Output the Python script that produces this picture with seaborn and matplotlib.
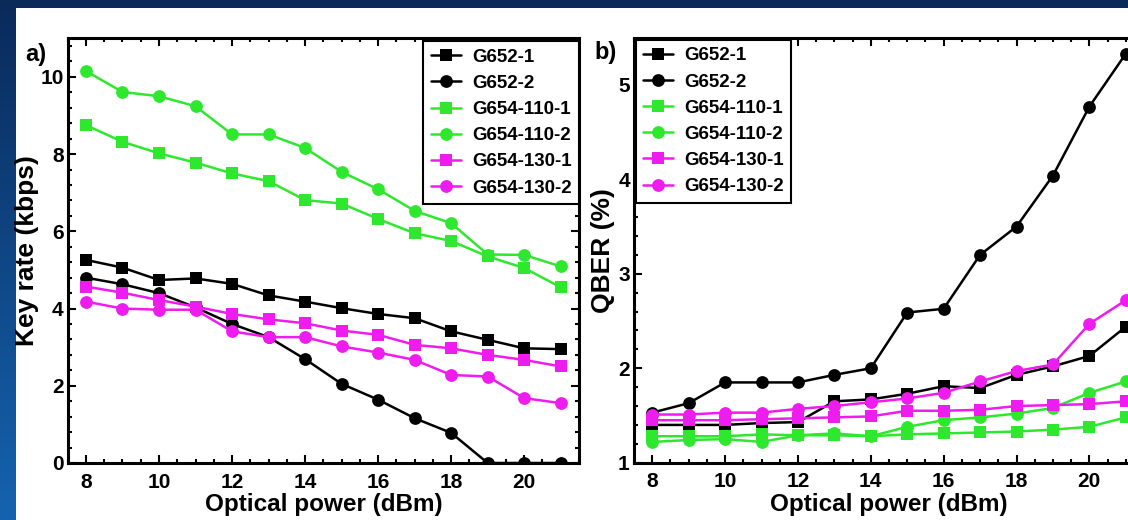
import numpy as np
import pandas as pd
import matplotlib
matplotlib.use("Agg")
import matplotlib.pyplot as plt
from matplotlib.ticker import MultipleLocator
from matplotlib.patches import Rectangle
from matplotlib.colors import LinearSegmentedColormap
import seaborn as sns

# ---------------- data ----------------
power = [8, 9, 10, 11, 12, 13, 14, 15, 16, 17, 18, 19, 20, 21]
series_names = ["G652-1", "G652-2", "G654-110-1", "G654-110-2", "G654-130-1", "G654-130-2"]

# panel a) key rate (kbps)
key_g652_1 = [5.26, 5.06, 4.74, 4.78, 4.64, 4.34, 4.18, 4.01, 3.86, 3.75, 3.41, 3.19, 2.97, 2.95]
key_g652_2 = [4.80, 4.63, 4.40, 4.03, 3.60, 3.26, 2.69, 2.05, 1.64, 1.16, 0.78, 0.0, 0.0, 0.0]
key_g654_110_1 = [8.75, 8.32, 8.02, 7.78, 7.50, 7.30, 6.81, 6.72, 6.32, 5.95, 5.75, 5.35, 5.05, 4.55]
key_g654_110_2 = [10.15, 9.61, 9.50, 9.24, 8.51, 8.51, 8.16, 7.54, 7.09, 6.53, 6.21, 5.40, 5.39, 5.09]
key_g654_130_1 = [4.57, 4.41, 4.22, 4.05, 3.86, 3.72, 3.62, 3.43, 3.32, 3.06, 2.97, 2.80, 2.67, 2.50]
key_g654_130_2 = [4.18, 4.00, 3.97, 3.97, 3.41, 3.26, 3.26, 3.02, 2.86, 2.67, 2.28, 2.24, 1.68, 1.55]

# panel b) QBER (%)
qber_g652_1 = [1.40, 1.40, 1.40, 1.42, 1.43, 1.65, 1.67, 1.73, 1.81, 1.79, 1.93, 2.02, 2.13, 2.44]
qber_g652_2 = [1.53, 1.63, 1.85, 1.85, 1.85, 1.93, 2.00, 2.59, 2.63, 3.20, 3.50, 4.04, 4.77, 5.33]
qber_g654_110_1 = [1.28, 1.28, 1.28, 1.30, 1.29, 1.29, 1.28, 1.30, 1.31, 1.32, 1.33, 1.35, 1.38, 1.48]
qber_g654_110_2 = [1.22, 1.24, 1.25, 1.22, 1.29, 1.31, 1.28, 1.38, 1.45, 1.48, 1.52, 1.58, 1.74, 1.86]
qber_g654_130_1 = [1.45, 1.45, 1.45, 1.46, 1.47, 1.48, 1.49, 1.55, 1.55, 1.56, 1.60, 1.61, 1.62, 1.65]
qber_g654_130_2 = [1.51, 1.51, 1.53, 1.53, 1.57, 1.60, 1.64, 1.68, 1.74, 1.86, 1.97, 2.04, 2.47, 2.72]

key_values = [key_g652_1, key_g652_2, key_g654_110_1, key_g654_110_2, key_g654_130_1, key_g654_130_2]
qber_values = [qber_g652_1, qber_g652_2, qber_g654_110_1, qber_g654_110_2, qber_g654_130_1, qber_g654_130_2]

# ---------------- style ----------------
sns.set_style("ticks")
plt.rcParams["font.family"] = ["Liberation Sans", "DejaVu Sans"]
plt.rcParams["font.weight"] = "bold"
plt.rcParams["axes.labelweight"] = "bold"
plt.rcParams["text.color"] = "black"
plt.rcParams["axes.labelcolor"] = "black"
plt.rcParams["xtick.color"] = "black"
plt.rcParams["ytick.color"] = "black"
plt.rcParams["xtick.labelcolor"] = "black"
plt.rcParams["ytick.labelcolor"] = "black"

colors = ["#000000", "#000000", "#2ee82e", "#2ee82e", "#ee1cee", "#ee1cee"]
markers = ["s", "o", "s", "o", "s", "o"]
msizes = [8.5, 9.2, 8.5, 9.2, 8.5, 9.2]

W, H = 1128, 520
fig = plt.figure(figsize=(W / 100, H / 100), dpi=100)

# slide background
bg = fig.add_axes([0, 0, 1, 1], zorder=-10)
grad = np.linspace(0, 1, 256).reshape(-1, 1)
cmap = LinearSegmentedColormap.from_list("bg", ["#0a2a5a", "#1563b0"])
bg.imshow(grad, aspect="auto", cmap=cmap, extent=[0, 1, 0, 1], origin="upper")
bg.add_patch(Rectangle((16 / W, 0), 1, (H - 8) / H, facecolor="white",
                       edgecolor="none", transform=bg.transAxes))
bg.set_xlim(0, 1)
bg.set_ylim(0, 1)
bg.axis("off")

axA = fig.add_axes([67.7 / W, (H - 463) / H, (579 - 67.7) / W, (463 - 38.3) / H])
axB = fig.add_axes([634 / W, (H - 462.7) / H, (1144 - 634) / W, (462.7 - 37.7) / H])


def draw(ax, values, ylabel, ylim, ymaj, ymin, leg_loc, leg_anchor, labelpad):
    for name, vals, c, m, ms in zip(series_names, values, colors, markers, msizes):
        df = pd.DataFrame({"power": power, "value": vals})
        sns.lineplot(data=df, x="power", y="value", ax=ax, color=c, marker=m,
                     markersize=ms, markeredgewidth=0, linewidth=1.8, label=name)
    ax.set_facecolor("white")
    ax.set_xlim(7.5, 21.5)
    ax.set_ylim(*ylim)
    ax.xaxis.set_major_locator(MultipleLocator(2))
    ax.xaxis.set_minor_locator(MultipleLocator(0.5))
    ax.yaxis.set_major_locator(MultipleLocator(ymaj))
    ax.yaxis.set_minor_locator(MultipleLocator(ymin))
    ax.set_xticks([8, 10, 12, 14, 16, 18, 20])
    ax.tick_params(which="both", direction="in", top=True, right=True,
                   width=1.5, colors="black", labelcolor="black", labelsize=15)
    ax.tick_params(which="major", length=5.5)
    ax.tick_params(which="minor", length=3)
    ax.tick_params(axis="x", pad=7)
    ax.tick_params(axis="y", pad=3)
    for sp in ax.spines.values():
        sp.set_linewidth(2.2)
        sp.set_color("black")
    ax.grid(False)
    ax.set_xlabel("Optical power (dBm)", fontsize=17.5, fontweight="bold",
                  labelpad=1, color="black")
    ax.set_ylabel(ylabel, fontsize=19, fontweight="bold", labelpad=labelpad,
                  color="black")
    leg = ax.legend(loc=leg_loc, bbox_to_anchor=leg_anchor, borderaxespad=0,
                    frameon=True, fancybox=False, edgecolor="black", framealpha=1,
                    prop={"weight": "bold", "size": 13.5}, labelspacing=0.48,
                    borderpad=0.4, handlelength=1.6, handletextpad=0.6)
    leg.get_frame().set_linewidth(1.5)
    for t in leg.get_texts():
        t.set_color("black")


draw(axA, key_values, "Key rate (kbps)", (0, 11), 2, 0.4, "upper right", (1.0, 0.993), 1)
draw(axB, qber_values, "QBER (%)", (1, 5.5), 1, 0.2, "upper left", (0.003, 0.995), 2)

fig.text(36 / W, 1 - 55 / H, "a)", fontsize=17, fontweight="bold", ha="center",
         va="center", color="black")
fig.text(606 / W, 1 - 53 / H, "b)", fontsize=17, fontweight="bold", ha="center",
         va="center", color="black")

fig.savefig("out.png", dpi=100)
